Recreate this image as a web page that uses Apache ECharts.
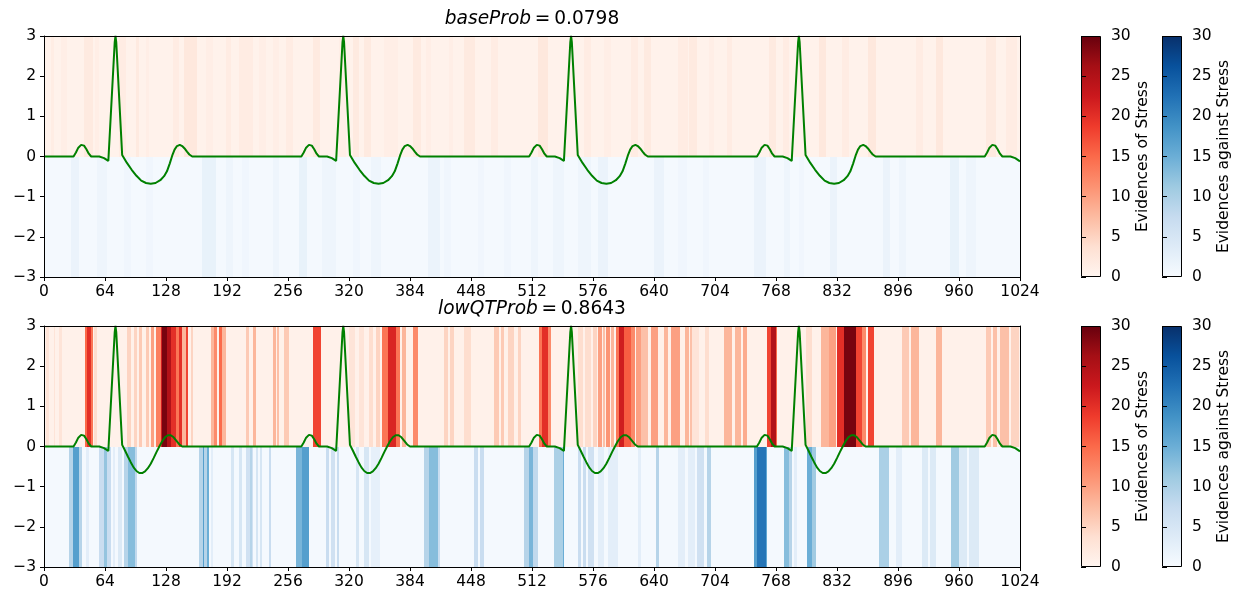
<!DOCTYPE html>
<html lang="en">
  <head>
    <meta charset="UTF-8" />
    <title>ECG evidences</title>
    <script src="https://cdn.jsdelivr.net/npm/echarts@6/dist/echarts.min.js"></script>
    <style>
      * {
        margin: 0;
        padding: 0;
      }
      body {
        background: #fff;
      }
    </style>
  </head>
  <body>
    <div id="charts" style="width: 1236px; height: 592px"></div>
    <script>
      // stripes: [xFrom, xTo, evidence]  (first item = background level)
      var baseStress = [
        [0, 1024, 0.6],
        [7, 10.5, 1.5], [17.5, 24.5, 1.2], [42, 51, 2], [54, 58, 1.2], [79, 86, 1.6],
        [96, 100, 2], [107, 110, 1.2], [135, 142, 1.6], [147, 161, 2.4], [170, 177, 1.2],
        [191, 196, 1.6], [205, 219, 1.6], [226, 233, 1.2], [240, 247, 1.2], [254, 261, 1.6],
        [282, 290, 2], [310, 317, 1.2], [324, 331, 2], [336, 343, 2], [357, 371, 1.2],
        [387, 396, 2], [401, 406, 1.2], [425, 429, 1.2], [441, 452, 2], [469, 476, 1.6],
        [518, 529, 2.4], [567, 574, 1.6], [588, 595, 1.2], [616, 623, 1.6], [630, 637, 2],
        [665, 676, 1.6], [677, 685, 2], [698, 703, 1.2], [717, 722, 1.6], [761, 768, 2],
        [775, 782, 1.6], [813, 820, 2.4], [837, 845, 1.6], [864, 873, 2.4], [915, 922, 1.6],
        [936, 943, 2.4], [988, 999, 2], [1009, 1021, 1.6]
      ];
      var baseAgainst = [
        [0, 1024, 0.5],
        [28, 37, 1.8], [56, 66.5, 1.4], [84, 91, 1.1], [107, 114, 1.1], [166, 180, 2.2],
        [191, 198, 1.4], [208, 215, 1.1], [240, 247, 1.4], [268, 276, 2.2], [292, 306, 1.4],
        [324, 332, 1.1], [343, 354, 1.4], [403, 415, 1.8], [420, 427, 1.1], [455, 462, 1.1],
        [483, 490, 1.1], [511, 518, 1.4], [534, 546, 1.4], [560, 574, 1.4], [581, 592, 1.8],
        [640, 651, 1.8], [665, 675, 1.1], [691, 698, 1.1], [745, 757, 1.8], [776, 783, 1.4],
        [792, 797, 1.1], [825, 832, 1.8], [880, 888, 1.8], [897, 904, 1.4], [951, 960, 2.2],
        [967, 978, 1.4]
      ];
      var lowQTStress = [
        [0, 1024, 0.8],
        [2, 5, 3], [10.5, 12, 3], [16, 19, 3], [43, 45, 15], [45, 49, 20], [49, 51, 14],
        [52.5, 56, 4], [87.5, 91, 5], [94.5, 98, 5], [100, 103, 6], [107, 110, 6],
        [112, 115.5, 10], [117, 122.5, 13], [122.5, 124, 22], [124, 129.5, 29], [129.5, 133, 25],
        [133, 138, 20], [138, 142, 14], [142, 145, 20], [145, 149, 8], [149, 151.5, 18],
        [154, 156, 5], [175, 178.5, 8], [178.5, 182, 12], [184, 186.5, 15], [187, 191, 8],
        [212, 215, 6], [219, 222, 8], [240, 243, 8], [244, 247, 7], [252, 257, 6],
        [282, 290.5, 18], [320, 326, 3], [330, 336, 3], [341, 345, 4], [348, 352, 5],
        [355, 360.5, 14], [360.5, 369, 21], [369, 373, 14], [376, 380, 8], [387, 392, 12],
        [420, 424, 5], [426, 430.5, 5], [441, 448, 4], [472.5, 477, 6], [479, 483, 6],
        [486.5, 493.5, 5], [497, 500.5, 5], [519.5, 523, 14], [523, 528.5, 20], [528.5, 532, 12],
        [560, 565, 4], [568, 574, 4], [576, 580, 5], [581, 585, 10], [586, 589, 7],
        [590, 594, 11], [595, 598.5, 8], [600, 603.5, 14], [603.5, 609, 22], [609, 616, 16],
        [616, 620, 12], [621, 626.5, 10], [626.5, 633.5, 7], [637, 644, 10], [651, 654.5, 8],
        [658, 667, 10], [672, 677, 8], [678, 682.5, 7], [680, 687, 3], [694, 697.5, 4],
        [713.5, 722, 8], [725.5, 731, 8], [733, 738, 9], [759, 762.5, 18], [762.5, 767.5, 25],
        [767.5, 769.5, 15], [799, 806, 4], [815, 824, 8], [824, 831, 10], [832.5, 839.5, 20],
        [839.5, 851.5, 29], [851.5, 858.5, 18], [858.5, 862, 12], [864, 871, 18], [900.5, 907.5, 6],
        [909.5, 918, 8], [935.5, 942.5, 8], [988, 994, 6], [996, 1000, 7], [1003, 1012, 7],
        [1015, 1023, 5]
      ];
      var lowQTAgainst = [
        [0, 1024, 0.5],
        [26, 30, 9], [30, 37, 17], [37, 40, 9], [44, 47, 3], [58, 63, 7], [63, 66.5, 12],
        [66.5, 70, 7], [72, 75, 3], [78, 82, 4], [84, 88, 9], [88, 95, 13], [95, 98, 8],
        [163, 166.5, 9], [166.5, 168, 17], [168, 171.5, 9], [171.5, 173, 15], [175, 177, 3],
        [196, 199, 5], [205, 208, 5], [212, 216, 6], [216, 218, 9], [218, 219, 6],
        [222, 225, 5], [227, 229, 5], [236, 238, 7], [264, 271, 14], [271, 278, 17],
        [296, 299, 7], [301, 305, 6], [307, 310, 7], [327, 331, 5], [336, 341, 5],
        [343, 352, 2.5], [399, 404, 9], [404, 413, 13], [413, 415, 7], [451.5, 455, 7],
        [457, 462, 7], [504, 509, 9], [509, 513, 14], [513, 518, 8], [535.5, 544, 10],
        [544, 546, 15], [560, 563, 7], [565, 569, 7], [571, 577.5, 6], [581, 588, 3],
        [592, 602, 3], [623, 626.5, 3], [642, 645.5, 9], [665, 672, 3], [676, 682.5, 3],
        [685.5, 692.5, 6], [696, 699.5, 9], [745, 748, 17], [748, 757, 22], [757, 759, 16],
        [776.5, 781.5, 13], [781.5, 785, 9], [787, 790.5, 3], [801, 806, 15], [806, 810, 11],
        [876, 886.5, 10], [893.5, 900.5, 3], [921.5, 927, 4], [930, 935.5, 4], [951.5, 960, 11],
        [960, 968, 4], [971, 981, 4]
      ];

      // ECG traces [x, mV]
      var baseEcg = [
        [0, 0], [31, 0], [33.5, 0.1], [36, 0.22], [39, 0.29], [42, 0.27], [44.5, 0.18], [47, 0.07], [49.5, 0],
        [58, 0], [63, -0.04], [67.5, -0.11], [74.2, 2.85], [75, 3], [75.8, 2.85], [82, 0.04],
        [87, -0.16], [92, -0.33], [97, -0.48], [102, -0.6], [107, -0.66], [112, -0.68], [117, -0.66],
        [122, -0.59], [126, -0.49], [129, -0.37], [132, -0.17], [134.5, 0.02], [137, 0.17], [139.5, 0.26],
        [142.5, 0.29], [145, 0.26], [147.5, 0.2], [150, 0.12], [152.5, 0.05], [155.5, 0],
        [270, 0], [272.5, 0.1], [275, 0.22], [278, 0.29], [281, 0.27], [283.5, 0.18], [286, 0.07], [288.5, 0],
        [297, 0], [302, -0.04], [306.5, -0.11], [313.2, 2.85], [314, 3], [314.8, 2.85], [321, 0.04],
        [326, -0.16], [331, -0.33], [336, -0.48], [341, -0.6], [346, -0.66], [351, -0.68], [356, -0.66],
        [361, -0.59], [365, -0.49], [368, -0.37], [371, -0.17], [373.5, 0.02], [376, 0.17], [378.5, 0.26],
        [381.5, 0.29], [384, 0.26], [386.5, 0.2], [389, 0.12], [391.5, 0.05], [394.5, 0],
        [509, 0], [511.5, 0.1], [514, 0.22], [517, 0.29], [520, 0.27], [522.5, 0.18], [525, 0.07], [527.5, 0],
        [536, 0], [541, -0.04], [545.5, -0.11], [552.2, 2.85], [553, 3], [553.8, 2.85], [560, 0.04],
        [565, -0.16], [570, -0.33], [575, -0.48], [580, -0.6], [585, -0.66], [590, -0.68], [595, -0.66],
        [600, -0.59], [604, -0.49], [607, -0.37], [610, -0.17], [612.5, 0.02], [615, 0.17], [617.5, 0.26],
        [620.5, 0.29], [623, 0.26], [625.5, 0.2], [628, 0.12], [630.5, 0.05], [633.5, 0],
        [748, 0], [750.5, 0.1], [753, 0.22], [756, 0.29], [759, 0.27], [761.5, 0.18], [764, 0.07], [766.5, 0],
        [775, 0], [780, -0.04], [784.5, -0.11], [791.2, 2.85], [792, 3], [792.8, 2.85], [799, 0.04],
        [804, -0.16], [809, -0.33], [814, -0.48], [819, -0.6], [824, -0.66], [829, -0.68], [834, -0.66],
        [839, -0.59], [843, -0.49], [846, -0.37], [849, -0.17], [851.5, 0.02], [854, 0.17], [856.5, 0.26],
        [859.5, 0.29], [862, 0.26], [864.5, 0.2], [867, 0.12], [869.5, 0.05], [872.5, 0],
        [987, 0], [989.5, 0.1], [992, 0.22], [995, 0.29], [998, 0.27], [1000.5, 0.18], [1003, 0.07], [1005.5, 0],
        [1014, 0], [1019, -0.04], [1024, -0.12]
      ];
      var lowQTEcg = [
        [0, 0], [31, 0], [33.5, 0.1], [36, 0.22], [39, 0.29], [42, 0.27], [44.5, 0.18], [47, 0.07], [49.5, 0],
        [58, 0], [63, -0.04], [67.5, -0.11], [74.2, 2.85], [75, 3], [75.8, 2.85], [82, 0.04],
        [85, -0.1], [88, -0.25], [91, -0.39], [94, -0.52], [97, -0.61], [100, -0.66], [103, -0.66],
        [106, -0.62], [109, -0.54], [112, -0.43], [115, -0.29], [118, -0.14], [121, 0], [124, 0.13],
        [127, 0.23], [130, 0.28], [133, 0.28], [136, 0.23], [139, 0.14], [142, 0.05], [145, 0],
        [270, 0], [272.5, 0.1], [275, 0.22], [278, 0.29], [281, 0.27], [283.5, 0.18], [286, 0.07], [288.5, 0],
        [297, 0], [302, -0.04], [306.5, -0.11], [313.2, 2.85], [314, 3], [314.8, 2.85], [321, 0.04],
        [324, -0.1], [327, -0.25], [330, -0.39], [333, -0.52], [336, -0.61], [339, -0.66], [342, -0.66],
        [345, -0.62], [348, -0.54], [351, -0.43], [354, -0.29], [357, -0.14], [360, 0], [363, 0.13],
        [366, 0.23], [369, 0.28], [372, 0.28], [375, 0.23], [378, 0.14], [381, 0.05], [384, 0],
        [509, 0], [511.5, 0.1], [514, 0.22], [517, 0.29], [520, 0.27], [522.5, 0.18], [525, 0.07], [527.5, 0],
        [536, 0], [541, -0.04], [545.5, -0.11], [552.2, 2.85], [553, 3], [553.8, 2.85], [560, 0.04],
        [563, -0.1], [566, -0.25], [569, -0.39], [572, -0.52], [575, -0.61], [578, -0.66], [581, -0.66],
        [584, -0.62], [587, -0.54], [590, -0.43], [593, -0.29], [596, -0.14], [599, 0], [602, 0.13],
        [605, 0.23], [608, 0.28], [611, 0.28], [614, 0.23], [617, 0.14], [620, 0.05], [623, 0],
        [748, 0], [750.5, 0.1], [753, 0.22], [756, 0.29], [759, 0.27], [761.5, 0.18], [764, 0.07], [766.5, 0],
        [775, 0], [780, -0.04], [784.5, -0.11], [791.2, 2.85], [792, 3], [792.8, 2.85], [799, 0.04],
        [802, -0.1], [805, -0.25], [808, -0.39], [811, -0.52], [814, -0.61], [817, -0.66], [820, -0.66],
        [823, -0.62], [826, -0.54], [829, -0.43], [832, -0.29], [835, -0.14], [838, 0], [841, 0.13],
        [844, 0.23], [847, 0.28], [850, 0.28], [853, 0.23], [856, 0.14], [859, 0.05], [862, 0],
        [987, 0], [989.5, 0.1], [992, 0.22], [995, 0.29], [998, 0.27], [1000.5, 0.18], [1003, 0.07], [1005.5, 0],
        [1014, 0], [1019, -0.04], [1024, -0.12]
      ];

      var titles = [
        { name: "baseProb", value: "0.0798" },
        { name: "lowQTProb", value: "0.8643" },
      ];
      var colorbarMax = [[0, 30]];

      var reds = ["#fff5f0", "#fee0d2", "#fcbba1", "#fc9272", "#fb6a4a", "#ef3b2c", "#cb181d", "#a50f15", "#67000d"];
      var blues = ["#f7fbff", "#deebf7", "#c6dbef", "#9ecae1", "#6baed6", "#4292c6", "#2171b5", "#08519c", "#08306b"];

      var FONT = "DejaVu Sans";
      var mainTop = [36, 326];
      var plotH = 241;

      function stripeRenderer(yLow, yHigh) {
        return function (params, api) {
          var a = api.coord([api.value(0), yHigh]);
          var b = api.coord([api.value(1), yLow]);
          var x0 = Math.round(a[0]);
          var x1 = Math.round(b[0]);
          var y0 = Math.round(a[1]);
          var y1 = Math.round(b[1]);
          return {
            type: "rect",
            shape: { x: x0, y: y0, width: Math.max(x1 - x0, 1), height: y1 - y0 },
            style: { fill: api.visual("color") },
          };
        };
      }

      function gradient(cols) {
        return new echarts.graphic.LinearGradient(
          0, 1, 0, 0,
          cols.map(function (c, i) {
            return { offset: i / (cols.length - 1), color: c };
          })
        );
      }

      function colorbarRenderer(cols) {
        return function (params, api) {
          var a = api.coord([0, api.value(1)]);
          var b = api.coord([1, api.value(0)]);
          var x0 = Math.round(a[0]) + 0.5;
          var y0 = Math.round(a[1]) + 0.5;
          var x1 = Math.round(b[0]) - 0.5;
          var y1 = Math.round(b[1]) - 0.5;
          return {
            type: "rect",
            shape: { x: x0, y: y0, width: x1 - x0, height: y1 - y0 },
            style: { fill: gradient(cols), stroke: "#000", lineWidth: 1 },
          };
        };
      }

      var minus = function (v) {
        return String(v).replace("-", "\u2212");
      };
      var plain = function (v) {
        return String(v);
      };

      var grids = [];
      var xAxes = [];
      var yAxes = [];
      var series = [];
      var graphics = [];

      var lineStyleBlack = { color: "#000", width: 1 };
      var labelStyle = { color: "#000", fontSize: 15.5, fontFamily: FONT };

      mainTop.forEach(function (top, p) {
        grids.push({ left: 44, top: top, width: 976, height: plotH, outerBoundsMode: "none" });
        var g = grids.length - 1;
        // bottom / top x axes
        xAxes.push({
          gridIndex: g, type: "value", min: 0, max: 1024, interval: 64, z: 10,
          axisLine: { show: true, onZero: false, lineStyle: lineStyleBlack },
          axisTick: { show: true, length: 4, lineStyle: lineStyleBlack },
          axisLabel: Object.assign({ margin: 7, formatter: plain }, labelStyle),
          splitLine: { show: false },
        });
        xAxes.push({
          gridIndex: g, type: "value", position: "top", min: 0, max: 1024, z: 10,
          axisLine: { show: true, onZero: false, lineStyle: lineStyleBlack },
          axisTick: { show: false }, axisLabel: { show: false }, splitLine: { show: false },
        });
        yAxes.push({
          gridIndex: g, type: "value", min: -3, max: 3, interval: 1, z: 10,
          axisLine: { show: true, onZero: false, lineStyle: lineStyleBlack },
          axisTick: { show: true, length: 4, lineStyle: lineStyleBlack },
          axisLabel: Object.assign({ margin: 8, formatter: minus }, labelStyle),
          splitLine: { show: false },
        });
        yAxes.push({
          gridIndex: g, type: "value", position: "right", min: -3, max: 3, z: 10,
          axisLine: { show: true, onZero: false, lineStyle: lineStyleBlack },
          axisTick: { show: false }, axisLabel: { show: false }, splitLine: { show: false },
        });

        graphics.push({
          type: "text",
          x: 532,
          y: top - 16.5,
          style: {
            text: "{i|" + titles[p].name + "}{n|\u2009=\u2009" + titles[p].value + "}",
            align: "center",
            verticalAlign: "middle",
            fontFamily: FONT,
            fontSize: 18.6,
            fill: "#000",
            rich: {
              i: { fontStyle: "italic", fontFamily: FONT, fontSize: 18.6, fill: "#000", color: "#000" },
              n: { fontFamily: FONT, fontSize: 18.6, fill: "#000", color: "#000" },
            },
          },
        });
      });

      // colour bars
      var bars = [
        { left: 1081, top: 36, cols: reds, name: "Evidences of Stress" },
        { left: 1162, top: 36, cols: blues, name: "Evidences against Stress" },
        { left: 1081, top: 326, cols: reds, name: "Evidences of Stress" },
        { left: 1162, top: 326, cols: blues, name: "Evidences against Stress" },
      ];
      bars.forEach(function (b) {
        grids.push({ left: b.left, top: b.top, width: 20, height: plotH, outerBoundsMode: "none" });
        var g = grids.length - 1;
        xAxes.push({
          gridIndex: g, type: "value", min: 0, max: 1, show: false,
          axisLine: { show: false }, axisTick: { show: false }, axisLabel: { show: false },
          splitLine: { show: false },
        });
        yAxes.push({
          gridIndex: g, type: "value", position: "right", min: 0, max: 30, interval: 5, z: 10,
          axisLine: { show: false },
          axisTick: { show: true, length: 5, lineStyle: lineStyleBlack },
          axisLabel: Object.assign({ margin: 10 }, labelStyle),
          splitLine: { show: false },
          name: b.name,
          nameLocation: "middle",
          nameRotate: 90,
          nameGap: 33,
          nameTextStyle: labelStyle,
        });
      });

      // stripes
      var stripeSets = [
        { data: baseStress, g: 0, low: 0, high: 3 },
        { data: baseAgainst, g: 0, low: -3, high: 0 },
        { data: lowQTStress, g: 1, low: 0, high: 3 },
        { data: lowQTAgainst, g: 1, low: -3, high: 0 },
      ];
      stripeSets.forEach(function (s) {
        series.push({
          type: "custom",
          xAxisIndex: s.g * 2,
          yAxisIndex: s.g * 2,
          renderItem: stripeRenderer(s.low, s.high),
          dimensions: ["from", "to", "evidence"],
          encode: { x: [0, 1] },
          data: s.data,
          z: 1,
          silent: true,
        });
      });

      [baseEcg, lowQTEcg].forEach(function (d, g) {
        series.push({
          type: "line",
          xAxisIndex: g * 2,
          yAxisIndex: g * 2,
          data: d,
          showSymbol: false,
          symbol: "none",
          lineStyle: { color: "#008000", width: 2 },
          itemStyle: { color: "#008000" },
          z: 5,
          silent: true,
        });
      });

      bars.forEach(function (b, i) {
        series.push({
          type: "custom",
          xAxisIndex: 4 + i,
          yAxisIndex: 4 + i,
          renderItem: colorbarRenderer(b.cols),
          encode: { y: [0, 1] },
          data: colorbarMax,
          z: 2,
          silent: true,
        });
      });

      var myEcharts = echarts.init(document.getElementById("charts"), null, { renderer: "canvas" });
      myEcharts.setOption({
        animation: false,
        backgroundColor: "#fff",
        textStyle: { fontFamily: FONT },
        grid: grids,
        xAxis: xAxes,
        yAxis: yAxes,
        visualMap: [
          { type: "continuous", show: false, seriesIndex: [0, 2], dimension: 2, min: 0, max: 30, inRange: { color: reds } },
          { type: "continuous", show: false, seriesIndex: [1, 3], dimension: 2, min: 0, max: 30, inRange: { color: blues } },
        ],
        graphic: graphics,
        series: series,
      });
    </script>
  </body>
</html>
